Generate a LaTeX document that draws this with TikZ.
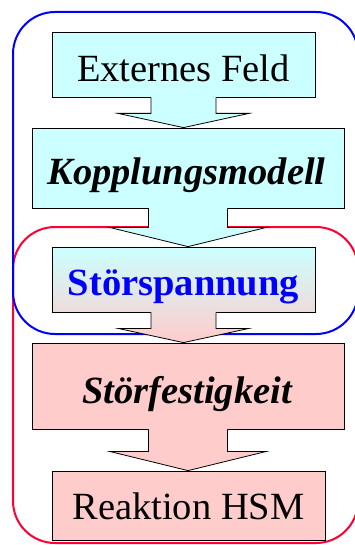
\documentclass[tikz,border=0pt]{standalone}
\usepackage{fontspec}
\setmainfont{Liberation Serif}
\usetikzlibrary{calc}
\definecolor{cyanf}{RGB}{204,255,255}
\definecolor{pinkf}{RGB}{255,204,204}
\definecolor{midf}{RGB}{239,220,220}
\definecolor{frameblue}{RGB}{0,0,255}
\definecolor{framered}{RGB}{255,0,51}
\definecolor{txtblue}{RGB}{0,0,255}
\newcommand{\bigfont}{\fontsize{38.5}{46}\selectfont}
% #1 from, #2 to, #3 stem half width, #4 wing half width, #5 stem length, #6 fill options
\newcommand{\blkarrow}[6]{%
  \path[#6] ($(#1.south)+(-#3,-1)$) -- ($(#1.south)+(-#3,#5)$) -- ($(#1.south)+(-#4,#5)$)
    -- (#1.south |- #2.north) -- ($(#1.south)+(#4,#5)$) -- ($(#1.south)+(#3,#5)$)
    -- ($(#1.south)+(#3,-1)$) -- cycle;
  \draw[arrowline] ($(#1.south)+(-#3,0)$) -- ($(#1.south)+(-#3,#5)$) -- ($(#1.south)+(-#4,#5)$)
    -- (#1.south |- #2.north) -- ($(#1.south)+(#4,#5)$) -- ($(#1.south)+(#3,#5)$)
    -- ($(#1.south)+(#3,0)$);
}
\begin{document}
\begin{tikzpicture}[x=1pt,y=-1pt,
  box/.style={draw=black, line width=0.8pt, inner sep=0pt, rectangle},
  arrowline/.style={draw=black, line width=0.8pt, line join=miter},
  frame/.style={rectangle, rounded corners=42pt, line width=2pt, inner sep=0pt},
  label/.style={anchor=base, font=\bigfont, inner sep=0pt}]
\useasboundingbox (0,0) rectangle (354,545);
% frames
\node[frame, draw=framered, minimum width=345pt, minimum height=316pt] (redframe) at (185.5,385) {};
\node[frame, draw=frameblue, minimum width=345pt, minimum height=322pt] (blueframe) at (185.5,173) {};
% boxes
\node[box, fill=cyanf, minimum width=263pt, minimum height=65pt] (b1) at (183.5,64.5) {};
\node[box, fill=cyanf, minimum width=312pt, minimum height=80pt] (b2) at (188,168) {};
\node[box, top color=cyanf, bottom color=midf, minimum width=263pt, minimum height=65pt] (b3) at (183.5,279.5) {};
\node[box, fill=pinkf, minimum width=312pt, minimum height=86pt] (b4) at (188,386) {};
\node[box, fill=pinkf, minimum width=273pt, minimum height=69pt] (b5) at (188.5,505.5) {};
% arrows
\blkarrow{b1}{b2}{32.5}{65.5}{16}{fill=cyanf}
\blkarrow{b2}{b3}{39.5}{78.5}{19}{fill=cyanf}
\blkarrow{b3}{b4}{32.5}{65.5}{16}{top color=midf, bottom color=pinkf}
\blkarrow{b4}{b5}{39.5}{78.5}{22}{fill=pinkf}
% texts
\node[label] (t1) at (183.5,82) {Externes Feld};
\node[label] (t2) at (186.5,185) {\textbf{\textit{Kopplungsmodell}}};
\node[label, text=txtblue] (t3) at (183.5,295) {\textbf{Störspannung}};
\node[label] (t4) at (187.5,403) {\textbf{\textit{Störfestigkeit}}};
\node[label] (t5) at (188.5,519) {Reaktion HSM};
\end{tikzpicture}
\end{document}
